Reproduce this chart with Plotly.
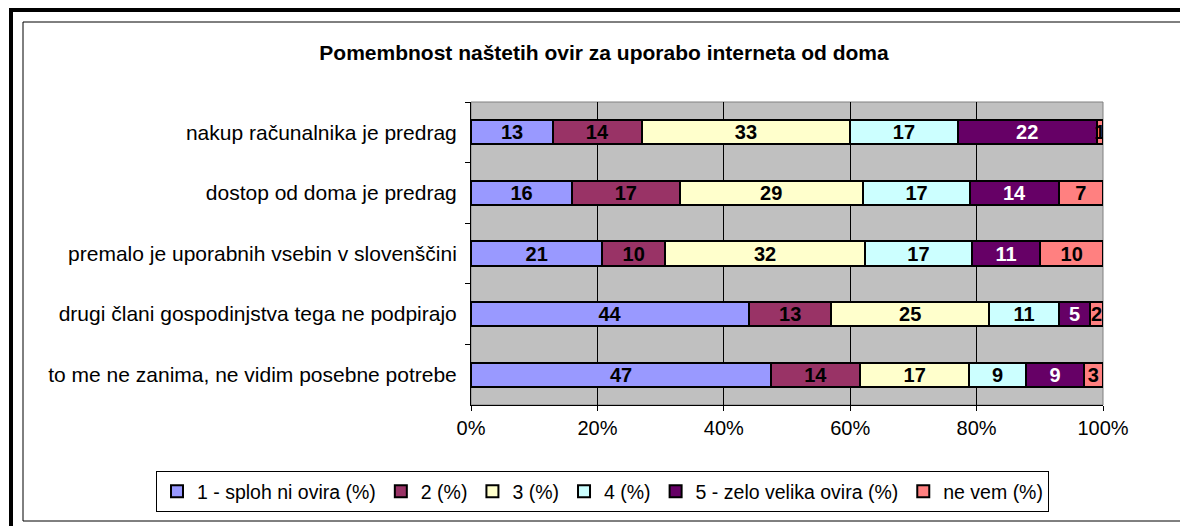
import plotly.graph_objects as go

categories = [
    "nakup računalnika je predrag",
    "dostop od doma je predrag",
    "premalo je uporabnih vsebin v slovenščini",
    "drugi člani gospodinjstva tega ne podpirajo",
    "to me ne zanima, ne vidim posebne potrebe",
]
series_names = [
    "1 - sploh ni ovira (%)",
    "2 (%)",
    "3 (%)",
    "4 (%)",
    "5 - zelo velika ovira (%)",
    "ne vem (%)",
]
s1 = [13, 16, 21, 44, 47]
s2 = [14, 17, 10, 13, 14]
s3 = [33, 29, 32, 25, 17]
s4 = [17, 17, 17, 11, 9]
s5 = [22, 14, 11, 5, 9]
s6 = [1, 7, 10, 2, 3]
series_values = [s1, s2, s3, s4, s5, s6]
colors = ["#9999FF", "#993366", "#FFFFCC", "#CCFFFF", "#660066", "#FF8080"]
text_colors = ["black", "black", "black", "black", "white", "black"]
x_ticks = [0, 20, 40, 60, 80, 100]
x_tick_labels = ["0%", "20%", "40%", "60%", "80%", "100%"]
title_text = "Pomembnost naštetih ovir za uporabo interneta od doma"

FONT = "Liberation Sans, Arial, sans-serif"
OFF = 8                      # page body margin
W, H = 1188 - OFF, 526 - OFF
# plot area in page pixels
L, R, T, B = 471, 1103, 102, 405


def px(p):
    return (p - L) / (R - L)


def py(p):
    return (B - p) / (B - T)


fig = go.Figure()
for name, vals, col, tcol in zip(series_names, series_values, colors, text_colors):
    fig.add_trace(go.Bar(
        name=name,
        y=categories,
        x=vals,
        orientation="h",
        marker=dict(color=col, line=dict(color="black", width=2)),
        text=[str(v) for v in vals],
        textposition="inside",
        insidetextanchor="middle",
        constraintext="none",
        textangle=0,
        textfont=dict(family=FONT, size=20, color=tcol, weight="bold"),
        hoverinfo="skip",
    ))

shapes = [
    dict(type="rect", xref="paper", yref="paper", x0=0, x1=1, y0=0, y1=1,
         line=dict(color="#808080", width=1), layer="below"),
    dict(type="rect", xref="paper", yref="paper",
         x0=px(23), x1=px(1184), y0=py(521), y1=py(22),
         line=dict(color="#000000", width=1)),
    dict(type="line", xref="paper", yref="paper",
         x0=px(9), x1=px(1195), y0=py(10), y1=py(10),
         line=dict(color="black", width=4)),
    dict(type="line", xref="paper", yref="paper",
         x0=px(11), x1=px(11), y0=py(8), y1=py(535),
         line=dict(color="black", width=4)),
]

fig.update_layout(
    width=W, height=H,
    margin=dict(l=L - OFF, r=W - (R - OFF), t=T - OFF, b=H - (B - OFF), autoexpand=False),
    barmode="stack",
    barnorm="percent",
    bargap=0.6,
    paper_bgcolor="white",
    plot_bgcolor="#C0C0C0",
    font=dict(family=FONT, size=20, color="black"),
    title=dict(text=title_text, x=(604 - OFF) / W, xref="container", xanchor="center",
               y=1 - (53 - OFF) / H, yref="container", yanchor="middle",
               font=dict(family=FONT, size=21, color="black", weight="bold")),
    xaxis=dict(range=[0, 100], tickmode="array", tickvals=x_ticks, ticktext=x_tick_labels,
               showgrid=True, gridcolor="black", gridwidth=1,
               showline=True, linecolor="black", linewidth=1,
               ticks="outside", ticklen=5, tickcolor="black",
               tickfont=dict(family=FONT, size=20, color="black"),
               zeroline=False, fixedrange=True),
    yaxis=dict(autorange="reversed", categoryorder="array", categoryarray=categories,
               showline=True, linecolor="black", linewidth=1,
               ticks="outside", ticklen=5, tickcolor="black", tickson="boundaries",
               tickfont=dict(family=FONT, size=21, color="black"),
               showgrid=False, fixedrange=True, ticklabelstandoff=9),
    showlegend=True,
    legend=dict(orientation="h", traceorder="normal",
                x=px(156), xanchor="left", y=py(471), yanchor="top",
                bordercolor="black", borderwidth=1, bgcolor="white",
                font=dict(family=FONT, size=19.5, color="black"),
                itemwidth=30, tracegroupgap=0),
    shapes=shapes,
)

fig.write_html("out.html")
